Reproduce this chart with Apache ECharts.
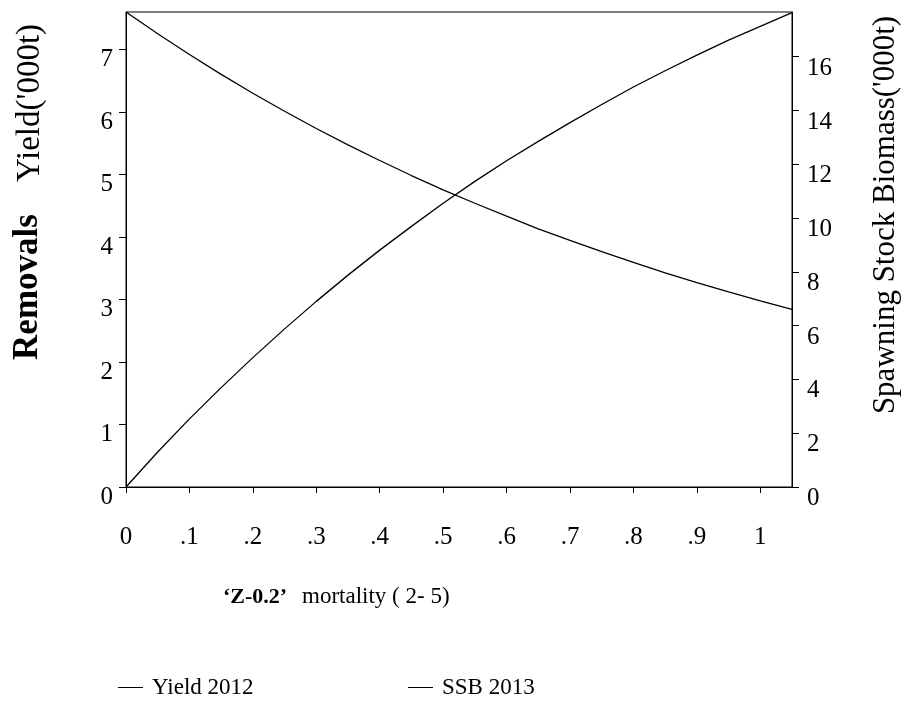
<!DOCTYPE html>
<html>
<head>
<meta charset="utf-8">
<script src="https://cdn.jsdelivr.net/npm/echarts@6/dist/echarts.min.js"></script>
<style>
  html, body { margin: 0; padding: 0; background: #fff; }
  #chart { width: 920px; height: 702px; }
</style>
</head>
<body>
<div id="chart"></div>
<script>
// 'Z-0.2' mortality (ages 2-5) on the x axis
const mortality = [0, 0.05, 0.1, 0.15, 0.2, 0.25, 0.3, 0.35, 0.4, 0.45, 0.5,
                   0.55, 0.6, 0.65, 0.7, 0.75, 0.8, 0.85, 0.9, 0.95, 1.0, 1.05];

// Yield 2012 ('000 t), left axis
const yield2012 = [0, 0.56, 1.09, 1.59, 2.07, 2.53, 2.97, 3.39, 3.79, 4.17, 4.54,
                   4.89, 5.22, 5.53, 5.83, 6.12, 6.40, 6.66, 6.91, 7.15, 7.37, 7.59];

// Spawning stock biomass 2013 ('000 t), right axis
const ssb2013 = [17.66, 16.85, 16.08, 15.34, 14.64, 13.97, 13.33, 12.72, 12.14, 11.58, 11.05,
                 10.55, 10.07, 9.60, 9.17, 8.75, 8.35, 7.96, 7.60, 7.25, 6.92, 6.60];

// Tick positions and their labels
const xTicks = [0, 0.1, 0.2, 0.3, 0.4, 0.5, 0.6, 0.7, 0.8, 0.9, 1];
const xTickLabels = ['0', '.1', '.2', '.3', '.4', '.5', '.6', '.7', '.8', '.9', '1'];
const yieldTicks = [0, 1, 2, 3, 4, 5, 6, 7];
const ssbTicks = [0, 2, 4, 6, 8, 10, 12, 14, 16];

const FONT = "'Liberation Serif', 'Times New Roman', serif";

const chart = echarts.init(document.getElementById('chart'));

const axisLine = { show: true, lineStyle: { color: '#000', width: 1 } };
const tickStyle = { show: true, inside: false, lineStyle: { color: '#000', width: 1 } };
const labelStyle = { color: '#000', fontFamily: FONT, fontSize: 25 };

const option = {
  backgroundColor: '#fff',
  animation: false,
  grid: {
    left: 126, right: 128, top: 12, bottom: 215,
    show: true, borderColor: '#000', borderWidth: 1,
    containLabel: false, outerBoundsMode: 'none'
  },
  xAxis: {
    type: 'value', min: 0, max: 1.05, interval: 0.1,
    axisLine: axisLine,
    splitLine: { show: false },
    axisTick: Object.assign({}, tickStyle, { length: 6, customValues: xTicks }),
    axisLabel: Object.assign({}, labelStyle, {
      margin: 38,
      customValues: xTicks,
      formatter: v => {
        const i = xTicks.findIndex(t => Math.abs(t - v) < 1e-6);
        return i >= 0 ? xTickLabels[i] : '';
      }
    })
  },
  yAxis: [
    {
      type: 'value', position: 'left', min: 0, max: 7.6, interval: 1,
      axisLine: axisLine,
      splitLine: { show: false },
      axisTick: Object.assign({}, tickStyle, { length: 7, customValues: yieldTicks }),
      axisLabel: Object.assign({}, labelStyle, {
        margin: 13, verticalAlign: 'top', lineHeight: 20, customValues: yieldTicks,
        formatter: v => String(v)
      })
    },
    {
      type: 'value', position: 'right', min: 0, max: 17.66, interval: 2,
      axisLine: axisLine,
      splitLine: { show: false },
      axisTick: Object.assign({}, tickStyle, { length: 7, customValues: ssbTicks }),
      axisLabel: Object.assign({}, labelStyle, {
        margin: 15, verticalAlign: 'top', lineHeight: 23, customValues: ssbTicks,
        formatter: v => String(v)
      })
    }
  ],
  legend: [
    {
      data: ['Yield 2012'], left: 113, top: 671, padding: 5, icon: 'rect',
      itemWidth: 25, itemHeight: 1, itemGap: 0,
      textStyle: { color: '#000', fontFamily: FONT, fontSize: 23, padding: [0, 0, 0, 4] }
    },
    {
      data: ['SSB 2013'], left: 403, top: 671, padding: 5, icon: 'rect',
      itemWidth: 25, itemHeight: 1, itemGap: 0,
      textStyle: { color: '#000', fontFamily: FONT, fontSize: 23, padding: [0, 0, 0, 4] }
    }
  ],
  graphic: [
    {
      type: 'text', x: 28, y: 287, rotation: Math.PI / 2,
      style: { text: 'Removals', fontFamily: FONT, fontWeight: 'bold', fontSize: 35,
               fill: '#000', align: 'center', verticalAlign: 'middle' }
    },
    {
      type: 'text', x: 30, y: 103, rotation: Math.PI / 2,
      style: { text: "Yield('000t)", fontFamily: FONT, fontSize: 33,
               fill: '#000', align: 'center', verticalAlign: 'middle' }
    },
    {
      type: 'text', x: 886, y: 215, rotation: Math.PI / 2,
      style: { text: "Spawning Stock Biomass('000t)", fontFamily: FONT, fontSize: 31,
               fill: '#000', align: 'center', verticalAlign: 'middle' }
    },
    {
      type: 'text', x: 223, y: 597,
      style: { text: '\u2018Z-0.2\u2019', fontFamily: FONT, fontWeight: 'bold', fontSize: 22,
               fill: '#000', align: 'left', verticalAlign: 'middle' }
    },
    {
      type: 'text', x: 302, y: 597,
      style: { text: 'mortality ( 2- 5)', fontFamily: FONT, fontSize: 23,
               fill: '#000', align: 'left', verticalAlign: 'middle' }
    }
  ],
  series: [
    {
      name: 'Yield 2012', type: 'line', yAxisIndex: 0,
      data: mortality.map((f, i) => [f, yield2012[i]]),
      symbol: 'none', smooth: false,
      lineStyle: { color: '#000', width: 1.3 },
      itemStyle: { color: '#000' }
    },
    {
      name: 'SSB 2013', type: 'line', yAxisIndex: 1,
      data: mortality.map((f, i) => [f, ssb2013[i]]),
      symbol: 'none', smooth: false,
      lineStyle: { color: '#000', width: 1.3 },
      itemStyle: { color: '#000' }
    }
  ]
};

chart.setOption(option);
</script>
</body>
</html>
